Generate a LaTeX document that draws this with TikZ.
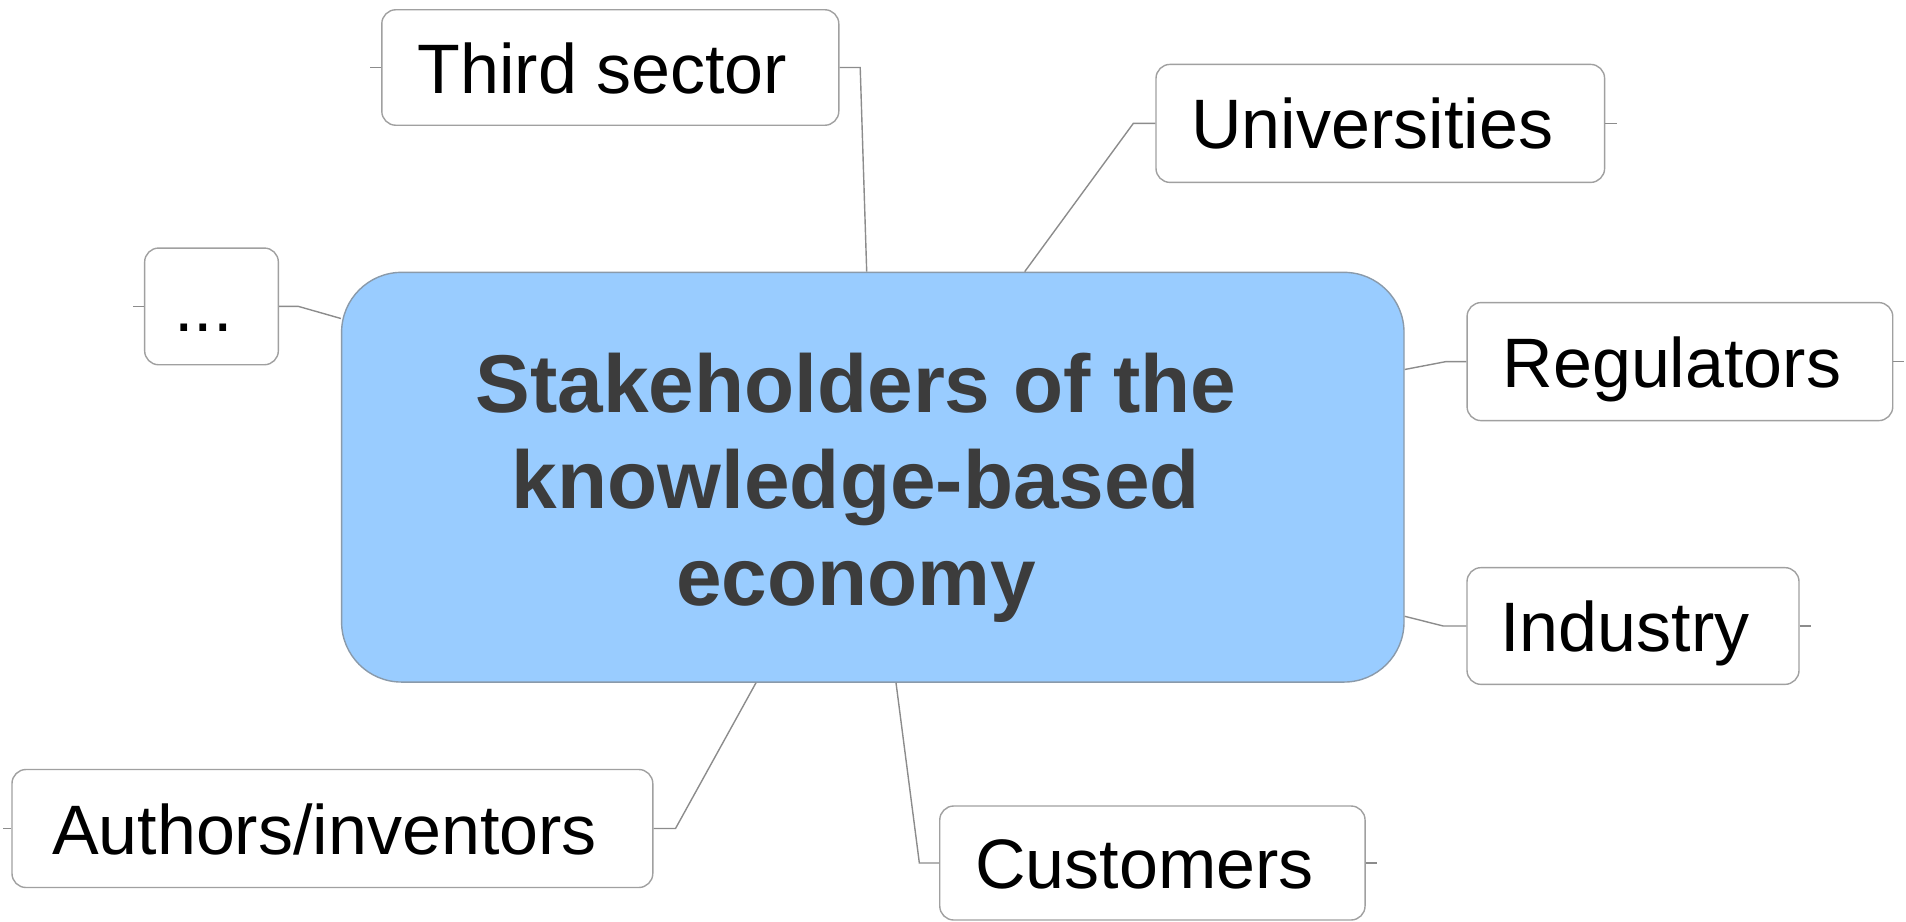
\documentclass[tikz,border=0pt]{standalone}
\usepackage{fontspec}
\setmainfont{Liberation Sans}
\definecolor{boxline}{HTML}{A0A0A0}
\definecolor{connline}{HTML}{8C8C8C}
\definecolor{hubfill}{HTML}{99CCFF}
\definecolor{hubline}{HTML}{8A9AAA}
\definecolor{hubtext}{HTML}{3C3C3C}
\tikzset{
  leaf/.style={draw=boxline, line width=1.4pt, fill=white, rounded corners=14pt,
    inner sep=0pt, text height=51pt, text depth=0pt,
    font=\fontsize{70}{84}\selectfont, execute at begin node={\kern-16pt}},
  hub/.style={draw=hubline, line width=1.4pt, fill=hubfill, rounded corners=60pt, inner sep=0pt},
  conn/.style={draw=connline, line width=1.4pt},
}
\begin{document}
\begin{tikzpicture}[x=1pt,y=-1pt]
\useasboundingbox (0,0) rectangle (1906,921);
\clip (0,0) rectangle (1906,921);
% central
\node[hub, minimum width=1062.4pt, minimum height=409.7pt] (hub) at (872.8,477.2) {};
\node[align=center, text=hubtext, inner sep=0pt, font=\fontsize{82}{96.6}\selectfont\bfseries] (hubtext) at (856,487.5)
  {Stakeholders of the\\knowledge-based\\economy};
% leaves
\node[leaf, minimum width=457pt, minimum height=115.5pt] (third) at (610.3,67.5) {Third sector};
\node[leaf, minimum width=448.6pt, minimum height=118pt] (univ) at (1380.3,123.4) {Universities};
\node[leaf, minimum width=133.7pt, minimum height=116.7pt] (dots) at (211.5,306.4) {...};
\node[leaf, minimum width=425.7pt, minimum height=118pt] (reg) at (1679.9,361.6) {Regulators};
\node[leaf, minimum width=332pt, minimum height=116.7pt] (ind) at (1633,626) {Industry};
\node[leaf, minimum width=640.8pt, minimum height=118pt] (auth) at (332.4,828.5) {Authors/inventors};
\node[leaf, minimum width=425.3pt, minimum height=114pt] (cust) at (1152.4,863) {Customers};
% connectors
\draw[conn] (third.east) -- ++(20.7,0) -- (hub.north -| 866.7,0);
\draw[conn] (univ.west) -- ++(-22,0) -- (hub.north -| 1024.7,0);
\draw[conn] (dots.east) -- ++(19.4,0) -- (hub.west |- 0,318.5);
\draw[conn] (reg.west) -- ++(-20.4,0) -- (hub.east |- 0,369.5);
\draw[conn] (ind.west) -- ++(-23,0) -- (hub.east |- 0,616.3);
\draw[conn] (auth.east) -- ++(22,0) -- (hub.south -| 756,0);
\draw[conn] (cust.west) -- ++(-19.7,0) -- (hub.south -| 896,0);
% stubs
\draw[conn] (third.west) -- ++(-11,0);
\draw[conn] (univ.east) -- ++(12,0);
\draw[conn] (dots.west) -- ++(-11,0);
\draw[conn] (reg.east) -- ++(11,0);
\draw[conn] (ind.east) -- ++(11,0);
\draw[conn] (auth.west) -- ++(-8.4,0);
\draw[conn] (cust.east) -- ++(11,0);
\end{tikzpicture}
\end{document}
